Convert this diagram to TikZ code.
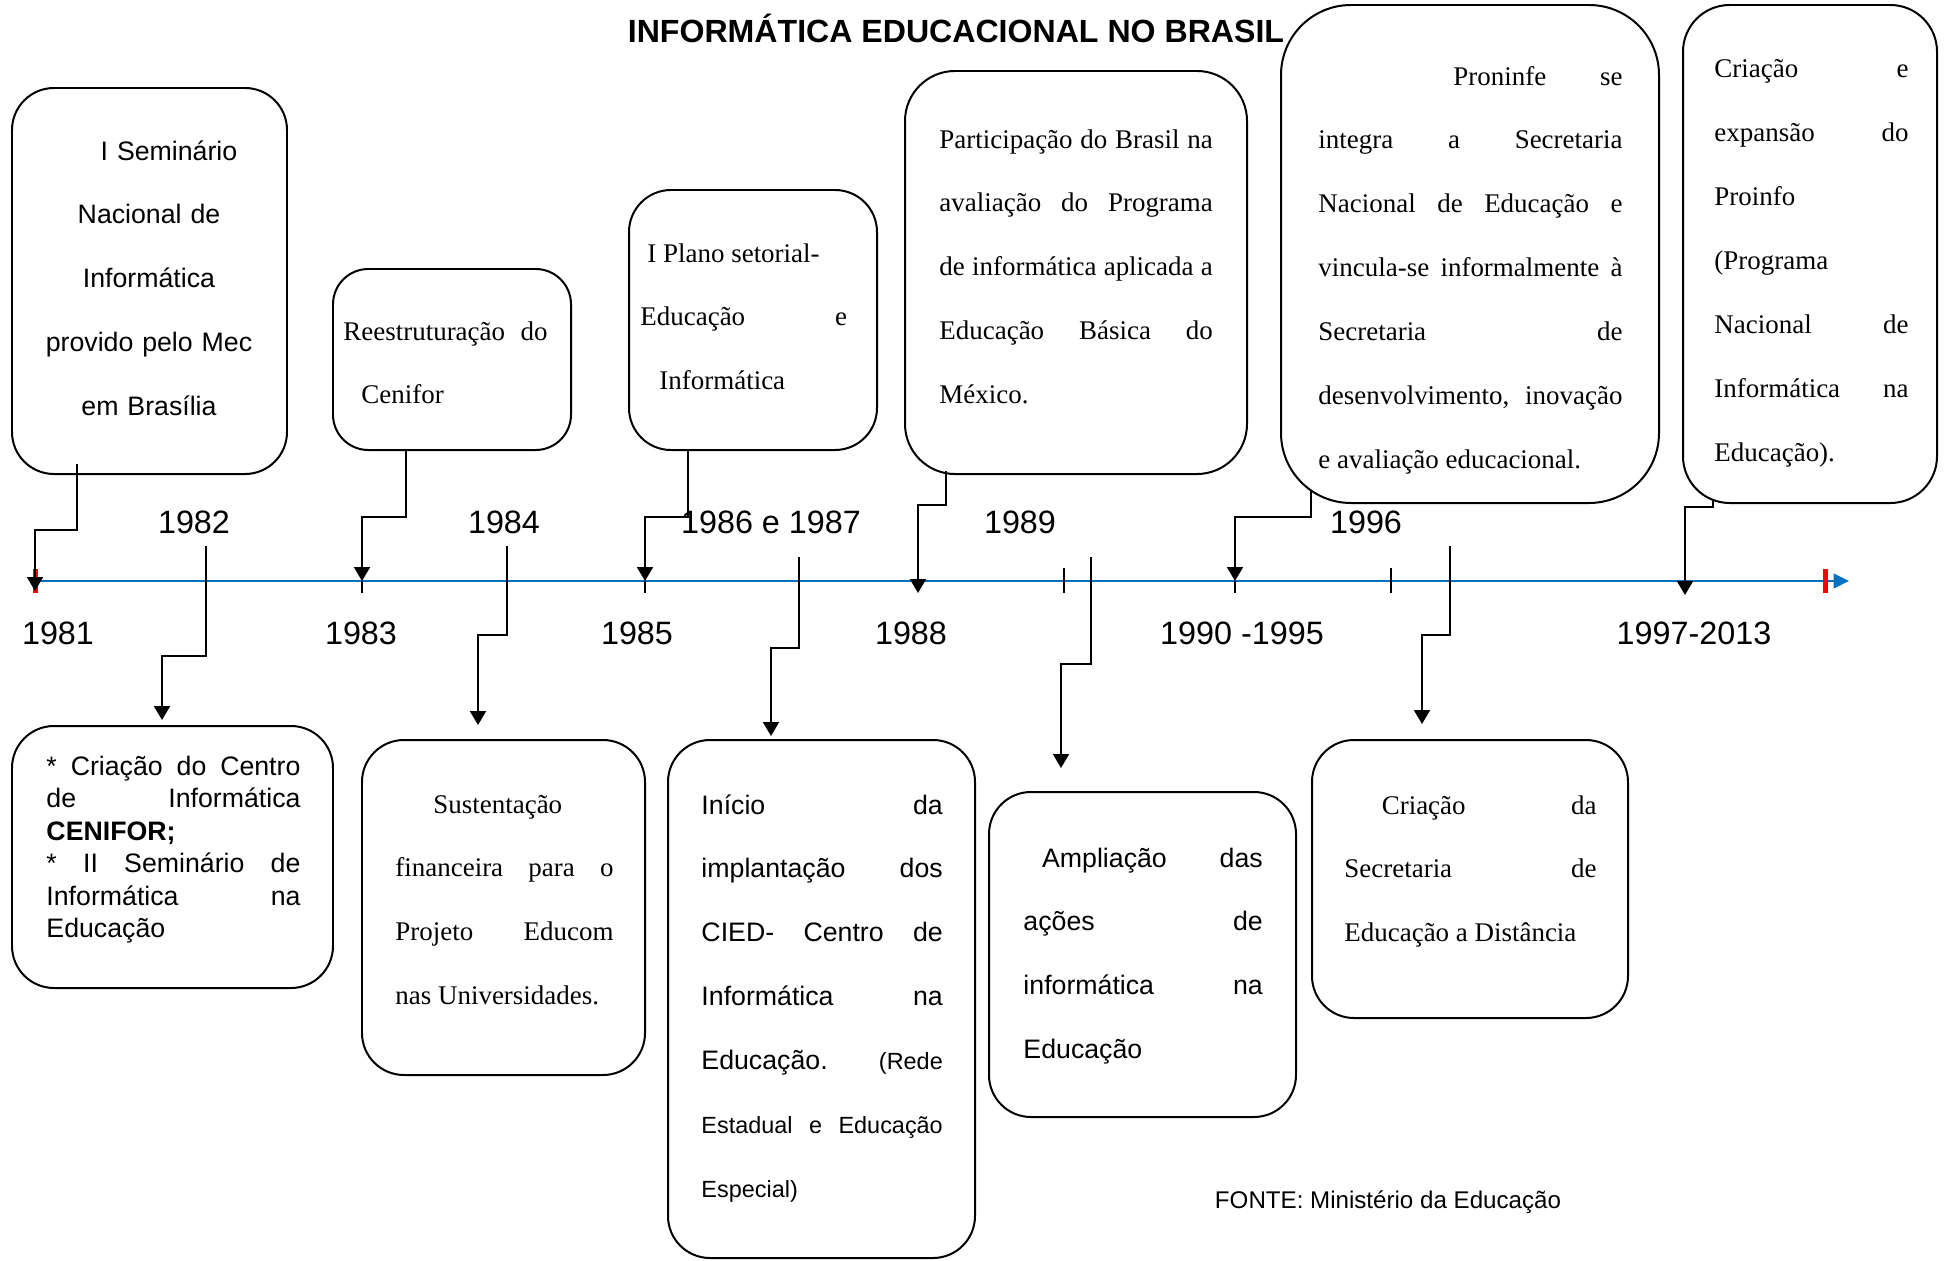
\documentclass[tikz,border=0pt]{standalone}
\usepackage{fontspec}
\setmainfont{Liberation Serif}
\setsansfont{Liberation Sans}
\usetikzlibrary{arrows.meta,fit,calc}
\hbadness=10000
\pretolerance=10000
\tolerance=10000
\definecolor{azul}{RGB}{0,112,192}
\newcommand\menor{\fontsize{10}{27.3}\selectfont}

\begin{document}
\begin{tikzpicture}[x=0.15mm, y=-0.15mm]
                    \tikzset{caixa/.style={draw, line width=0.85pt, rounded corners=6.3mm, inner sep=0pt}}
                    \tikzset{serif/.style={font=\rmfamily\fontsize{11.5}{27.3}\selectfont, align=justify, inner sep=0pt, anchor=base west}}
                    \tikzset{sans/.style={font=\sffamily\fontsize{11.4}{27.3}\selectfont, align=justify, inner sep=0pt, anchor=base west}}
                    \tikzset{ano/.style={font=\sffamily\fontsize{13.8}{16}\selectfont, inner sep=0pt, anchor=base}}
                    \tikzset{seta/.style={-{Triangle[length=2.1mm, width=2.4mm]}, line width=0.85pt}}
                    \useasboundingbox (0,0) rectangle (1946,1261);

                    \node[font=\sffamily\bfseries\fontsize{13.7}{16}\selectfont, inner sep=0pt, anchor=base] (titulo) at (956,42) {INFORMÁTICA EDUCACIONAL NO BRASIL};

                    \node[caixa, fit={(12,88) (287,474)}] (seminario) {};
                    \node[caixa, rounded corners=5.3mm, fit={(333,269) (571,450)}] (reestruturacao) {};
                    \node[caixa, fit={(629,190) (877,450)}] (plano) {};
                    \node[caixa, rounded corners=7.5mm, fit={(905,71) (1247,474)}] (participacao) {};
                    \node[caixa, rounded corners=10.5mm, fit={(1281,5) (1659,503)}] (proninfe) {};
                    \node[caixa, rounded corners=7mm, fit={(1683,5) (1937,503)}] (proinfo) {};
                    \node[caixa, fit={(12,726) (333,988)}] (cenifor) {};
                    \node[caixa, fit={(362,740) (645,1075)}] (educom) {};
                    \node[caixa, fit={(668,740) (975,1258)}] (cied) {};
                    \node[caixa, fit={(989,792) (1296,1117)}] (ampliacao) {};
                    \node[caixa, fit={(1312,740) (1628,1018)}] (secretaria) {};

                    \node[sans, align=center, anchor=base, text width=36mm] (seminariotxt) at (149,160)
                        {\hspace*{6mm}I Seminário\\ Nacional de\\ Informática\\ provido pelo Mec\\ em Brasília};
                    \node[serif, text width=30.6mm] (reestruturacaotxt) at (343,340)
                        {Reestruturação do\linebreak \hspace*{2.7mm}Cenifor};
                    \node[serif, text width=31mm] (planotxt) at (640,262)
                        {\hspace*{1.05mm}I Plano setorial-\\ Educação e\linebreak \hspace*{2.85mm}Informática};
                    \node[serif, text width=41mm] (participacaotxt) at (939,148)
                        {Participação do Brasil na\linebreak avaliação do Programa\linebreak de informática aplicada a\linebreak Educação Básica do\linebreak México.};
                    \node[serif, text width=45.6mm] (proninfetxt) at (1318,85)
                        {\hspace*{20.25mm}Proninfe se\linebreak integra a Secretaria\linebreak Nacional de Educação e\linebreak vincula-se informalmente à\linebreak Secretaria de\linebreak desenvolvimento, inovação\linebreak e avaliação educacional.};
                    \node[serif, text width=29.1mm] (proinfotxt) at (1714,78)
                        {Criação e\linebreak expansão do\linebreak Proinfo\\ (Programa\\ Nacional de\linebreak Informática na\linebreak Educação).};
                    \node[sans, font=\sffamily\fontsize{11.4}{13.9}\selectfont, text width=38.1mm] (cenifortxt) at (46,775)
                        {* Criação do Centro\linebreak de Informática\linebreak \textbf{CENIFOR;}\\ {*} II Seminário de\linebreak Informática na\linebreak Educação};
                    \node[serif, text width=32.7mm] (educomtxt) at (395,813)
                        {\hspace*{5.7mm}Sustentação\\ financeira para o\linebreak Projeto Educom\linebreak nas Universidades.};
                    \node[sans, text width=36.2mm] (ciedtxt) at (701,814)
                        {Início da\linebreak implantação dos\linebreak CIED- Centro de\linebreak Informática na\linebreak Educação. {\menor (Rede}\linebreak {\menor Estadual e Educação}\linebreak {\menor Especial)}};
                    \node[sans, text width=35.9mm] (ampliacaotxt) at (1023,867)
                        {\hspace*{2.8mm}Ampliação das\linebreak ações de\linebreak informática na\linebreak Educação};
                    \node[serif, text width=37.8mm] (secretariatxt) at (1344,814)
                        {\hspace*{5.6mm}Criação da\linebreak Secretaria de\linebreak Educação a Distância};
                    \node[font=\sffamily\fontsize{10.3}{12}\selectfont, inner sep=0pt, anchor=base] (fonte) at (1388,1208) {FONTE: Ministério da Educação};

                    \coordinate (inicio) at (35,581);
                    \coordinate (fim) at (1849,581);
                    \draw[azul, line width=0.9pt, -{Triangle[length=2.3mm, width=2.2mm]}] (inicio) -- (fim);
                    \draw[red, line width=0.75mm] (35,569) -- (35,593);
                    \draw[red, line width=0.75mm] (1825,569) -- (1825,593);
                    \foreach \x in {362,645,1235} \draw[line width=0.5pt] (\x,581) -- (\x,593);
                    \foreach \x in {1064,1391} \draw[line width=0.5pt] (\x,568) -- (\x,593);

                    \node[ano] (ano82) at (194,533) {1982};
                    \node[ano] (ano84) at (504,533) {1984};
                    \node[ano] (ano86) at (771,533) {1986 e 1987};
                    \node[ano] (ano89) at (1020,533) {1989};
                    \node[ano] (ano96) at (1366,533) {1996};
                    \node[ano] (ano81) at (58,644) {1981};
                    \node[ano] (ano83) at (361,644) {1983};
                    \node[ano] (ano85) at (637,644) {1985};
                    \node[ano] (ano88) at (911,644) {1988};
                    \node[ano] (ano90) at (1242,644) {1990 -1995};
                    \node[ano] (ano97) at (1694,644) {1997-2013};

                    \coordinate (m81) at (35,591);
                    \coordinate (m83) at (362,581);
                    \coordinate (m85) at (645,581);
                    \coordinate (m88) at (918,593);
                    \coordinate (m90) at (1235,581);
                    \coordinate (m97) at (1685,595);
                    \coordinate (m82) at (206,546);
                    \coordinate (m84) at (507,546);
                    \coordinate (m86) at (799,557);
                    \coordinate (m89) at (1091,557);
                    \coordinate (m96) at (1450,546);

                    \draw[seta] ($(seminario.south west)+(66,-11)$) -- ++(0,66) -| (m81);
                    \draw[seta] ($(reestruturacao.south west)+(74,0)$) -- ++(0,66) -| (m83);
                    \draw[seta] ($(plano.south west)+(60,0)$) -- ++(0,66) -| (m85);
                    \draw[seta] ($(participacao.south west)+(42,-4)$) -- ++(0,34) -| (m88);
                    \draw[seta] ($(proninfe.south west)+(31,-13)$) -- ++(0,26) -| (m90);
                    \draw[seta] ($(proinfo.south west)+(31,-3)$) -- ++(0,6) -| (m97);
                    \draw[seta] (m82) -- ++(0,110) -| ($(cenifor.north west)+(151,-5)$);
                    \draw[seta] (m84) -- ++(0,89) -| ($(educom.north west)+(117,-14)$);
                    \draw[seta] (m86) -- ++(0,91) -| ($(cied.north west)+(104,-3)$);
                    \draw[seta] (m89) -- ++(0,107) -| ($(ampliacao.north west)+(73,-23)$);
                    \draw[seta] (m96) -- ++(0,89) -| ($(secretaria.north west)+(111,-15)$);
                \end{tikzpicture}
\end{document}
